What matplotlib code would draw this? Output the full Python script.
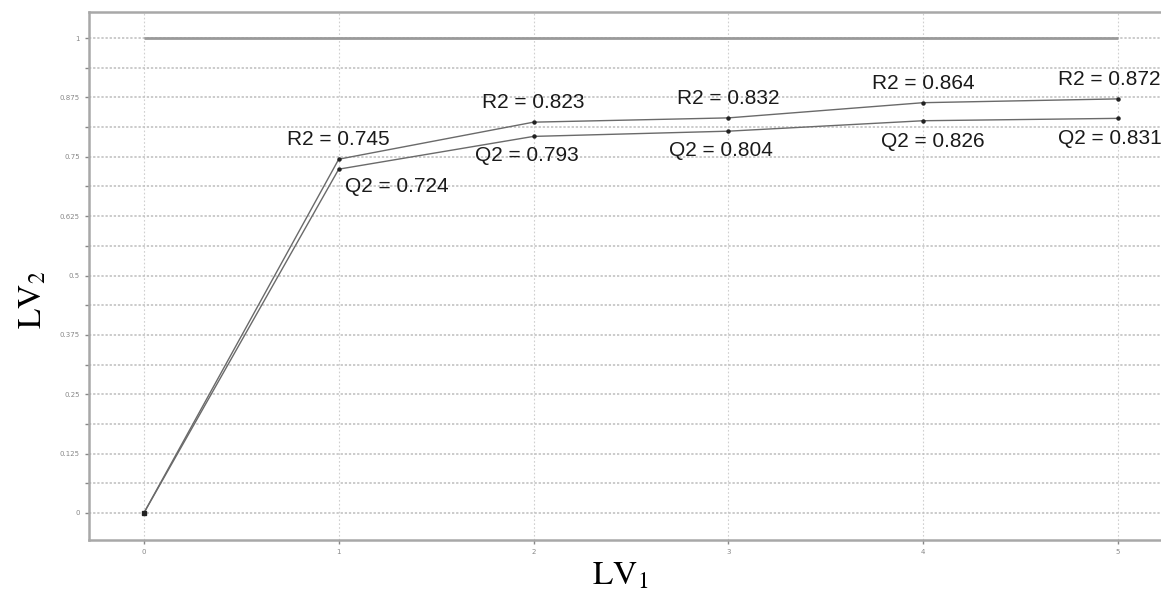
import matplotlib
matplotlib.use("Agg")
import matplotlib.pyplot as plt
from matplotlib.ticker import MultipleLocator, FixedLocator

plt.rcParams["mathtext.fontset"] = "stix"

# ---- data ----
components = [0, 1, 2, 3, 4, 5]
r2_values = [0.0, 0.745, 0.823, 0.832, 0.864, 0.872]
q2_values = [0.0, 0.724, 0.793, 0.804, 0.826, 0.831]
reference_level = [1.0, 1.0, 1.0, 1.0, 1.0, 1.0]
y_ticks = [0, 0.125, 0.25, 0.375, 0.5, 0.625, 0.75, 0.875, 1]
y_tick_labels = ["0", "0.125", "0.25", "0.375", "0.5", "0.625", "0.75", "0.875", "1"]
x_tick_labels = ["0", "1", "2", "3", "4", "5"]

# label offsets in points (style)
r2_offsets = [None, (0, 7), (0, 7), (0, 7), (0, 7), (-6, 7)]
q2_offsets = [None, (42, -6), (-5, -7), (-5, -7), (7, -8), (-6, -8)]

fig = plt.figure(figsize=(11.61, 5.95), dpi=100)
ax = fig.add_axes([89 / 1161, 1 - 540 / 595, 1 - 89 / 1161, (540 - 12) / 595])

ax.set_xlim(-0.282, 5.221)
ax.set_ylim(-0.057, 1.055)

# grid
ax.yaxis.set_major_locator(FixedLocator(y_ticks))
ax.yaxis.set_minor_locator(MultipleLocator(0.0625))
ax.xaxis.set_major_locator(FixedLocator(components))
ax.grid(True, which="major", axis="y", color="#bdbdbd", linestyle=(0, (1.5, 1.2)), linewidth=1.1)
ax.grid(True, which="minor", axis="y", color="#bdbdbd", linestyle=(0, (1.5, 1.2)), linewidth=1.1)
ax.grid(True, which="major", axis="x", color="#cfcfcf", linestyle=(0, (1.5, 2)), linewidth=0.8)
ax.set_axisbelow(True)

ax.plot(components, reference_level, color="#9a9a9a", linewidth=2.0, solid_capstyle="butt")
ax.plot(components, r2_values, color="#6a6a6a", linewidth=1.0, marker="o", markersize=2.2,
        markerfacecolor="#222222", markeredgecolor="#222222")
ax.plot(components, q2_values, color="#6a6a6a", linewidth=1.0, marker="o", markersize=2.2,
        markerfacecolor="#222222", markeredgecolor="#222222")
ax.plot([components[0]], [r2_values[0]], marker="s", markersize=3, color="#222222")

for x, r, q, ro, qo in zip(components, r2_values, q2_values, r2_offsets, q2_offsets):
    if ro is None:
        continue
    ax.annotate(f"R2 = {r:.3f}", (x, r), xytext=ro, textcoords="offset points",
                ha="center", va="bottom", fontsize=15, family="Liberation Sans", color="#1a1a1a")
    ax.annotate(f"Q2 = {q:.3f}", (x, q), xytext=qo, textcoords="offset points",
                ha="center", va="top", fontsize=15, family="Liberation Sans", color="#1a1a1a")

ax.set_yticks(y_ticks)
ax.set_yticklabels(y_tick_labels)
ax.set_xticks(components)
ax.set_xticklabels(x_tick_labels)
ax.tick_params(axis="both", which="major", labelsize=5, colors="#888888", length=3, width=1)
ax.tick_params(axis="y", which="minor", length=3, width=1, colors="#888888")

for s in ["left", "bottom", "top"]:
    ax.spines[s].set_color("#a8a8a8")
    ax.spines[s].set_linewidth(1.8)
ax.spines["right"].set_visible(False)

fig.text(620 / 1161, 1 - 575 / 595, r"$\mathrm{LV}_1$", ha="center", va="center",
         fontsize=24)
fig.text(32 / 1161, 1 - 300 / 595, r"$\mathrm{LV}_2$", ha="center", va="center", rotation=90,
         fontsize=24)

fig.savefig("out.png", dpi=100)
